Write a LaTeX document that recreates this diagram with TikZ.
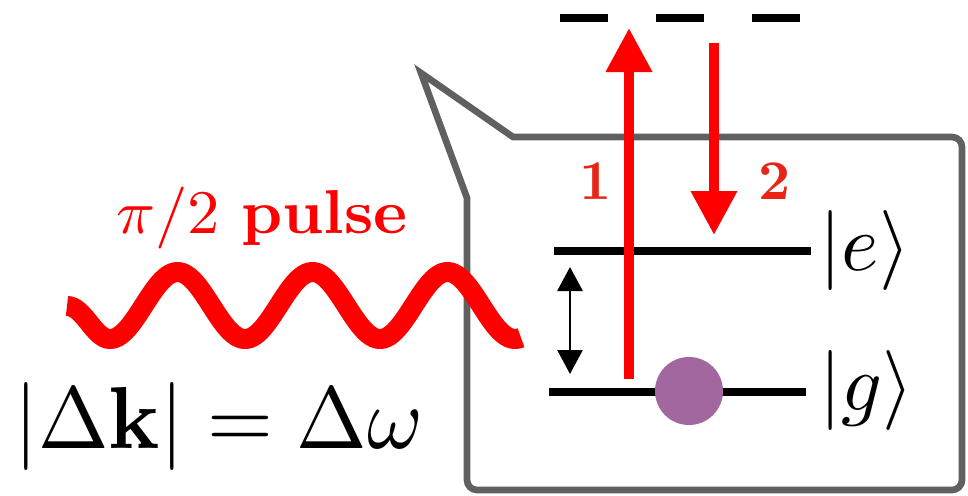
\documentclass[tikz,border=0pt]{standalone}
\usetikzlibrary{arrows.meta}
\definecolor{boxgray}{RGB}{96,96,96}
\definecolor{atomcol}{RGB}{161,103,158}
\definecolor{lblred}{RGB}{232,36,22}
\begin{document}
\begin{tikzpicture}[x=0.75pt,y=-0.75pt,
  boxline/.style={draw=boxgray,line width=5pt,line join=miter},
  levelline/.style={line width=5.6pt},
  laser/.style={red,line width=7.5pt,-{Triangle[width=33pt,length=33pt]}},
  gaparrow/.style={line width=2.2pt,{Triangle[width=18.75pt,length=18pt]}-{Triangle[width=18.75pt,length=18pt]}},
  wavestyle/.style={red,line width=15pt},
  txt/.style={inner sep=0pt,anchor=base west},
  numlbl/.style={lblred,inner sep=0pt,anchor=base,scale=4.2}]
\useasboundingbox (0,0) rectangle (968,496);
% callout box
\coordinate (tail) at (421,73);
\coordinate (tb) at (467,198);
\coordinate (tt) at (513,137);
\coordinate (c1) at (962,137);
\coordinate (c2) at (962,490);
\coordinate (c3) at (467,490);
\draw[boxline] (tt) [rounded corners=7.5pt] -- (c1) -- (c2) -- (c3) [sharp corners] -- (tb) -- (tail) -- cycle;
% virtual level (dashed)
\coordinate (d0) at (560,18);
\coordinate (d1) at (800,18);
\draw[levelline,dash pattern=on 36pt off 36pt] (d0) -- (d1);
% energy levels
\coordinate (e0) at (554,251);
\coordinate (e1) at (811,251);
\coordinate (g0) at (549,392);
\coordinate (g1) at (806,392);
\draw[levelline] (e0) -- (e1);
\draw[levelline] (g0) -- (g1);
\node[circle,fill=atomcol,inner sep=0pt,minimum size=51pt] (atom) at (689,391) {};
% gap arrow
\coordinate (ga0) at (570,267);
\coordinate (ga1) at (570,374);
\draw[gaparrow] (ga0) -- (ga1);
% Raman beams
\coordinate (u0) at (629,379);
\coordinate (u1) at (629,28);
\coordinate (v0) at (714,43);
\coordinate (v1) at (714,235);
\draw[laser] (u0) -- (u1);
\draw[laser] (v0) -- (v1);
\node[numlbl] (n1) at (596,199) {\textbf{1}};
\node[numlbl] (n2) at (775,199) {\textbf{2}};
% pulse wave
\coordinate (w0) at (67,306);
\draw[wavestyle] (w0) .. controls (84,306) and (94,339) .. (110,339)
  -- plot[domain=110:521,samples=160,smooth] (\x,{305.5+33.5*cos(2.6667*(\x-110))});
% labels
\node[txt,red,xscale=4.84,yscale=4.65] (pulse) at (115,233) {$\pi/2$ \textbf{pulse}};
\node[txt,xscale=6.35,yscale=6.6] (rel) at (13,448) {$|\Delta\mathbf{k}| = \Delta\omega$};
\node[txt,scale=6] (ket e) at (818,270) {$|e\rangle$};
\node[txt,scale=6] (ket g) at (818,410) {$|g\rangle$};
\end{tikzpicture}
\end{document}
